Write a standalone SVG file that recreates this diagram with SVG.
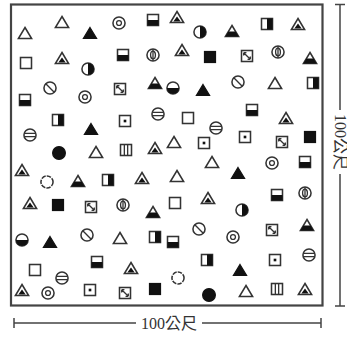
<svg xmlns="http://www.w3.org/2000/svg" xmlns:xlink="http://www.w3.org/1999/xlink" width="347" height="339" viewBox="0 0 347 339">
<style>
.o{fill:#fff;stroke:#333;stroke-width:1.4}
.f{fill:#111;stroke:#111;stroke-width:1.1}
.l{fill:none;stroke:#333;stroke-width:1.2}
.k{fill:#111;stroke:none}
.dim{fill:none;stroke:#444;stroke-width:1.5}
.lbl{font-family:"Liberation Serif","Noto Sans CJK TC",serif;font-size:16px;fill:#333}
</style>
<defs>
<g id="tri" transform="scale(1.1)"><path class="o" d="M0,-5 L6,5 L-6,5Z"/></g>
<g id="triF" transform="scale(1.1)"><path class="f" d="M0,-5 L6,5 L-6,5Z"/></g>
<g id="triB" transform="scale(1.1)"><path class="o" d="M0,-5 L6,5 L-6,5Z"/><path class="k" d="M-3.3,0.5 L3.3,0.5 L6,5 L-6,5Z"/></g>
<g id="triH" transform="scale(1.1)"><path class="o" d="M0,-5 L6,5 L-6,5Z"/><path class="k" d="M0,-0.5 L3.3,4 L-3.3,4Z"/></g>
<g id="sq" transform="scale(1.1)"><rect class="o" x="-5" y="-5" width="10" height="10"/></g>
<g id="sqF" transform="scale(1.1)"><rect class="f" x="-5" y="-5" width="10" height="10"/></g>
<g id="sqB" transform="scale(1.1)"><rect class="o" x="-5" y="-5" width="10" height="10"/><rect class="k" x="-5" y="0" width="10" height="5"/></g>
<g id="sqR" transform="scale(1.1)"><rect class="o" x="-5" y="-5" width="10" height="10"/><rect class="k" x="0" y="-5" width="5" height="10"/></g>
<g id="sqX" transform="scale(1.1)"><rect class="o" x="-5" y="-5" width="10" height="10"/><path class="l" d="M-3,-3 L3,3 M-3,-3 h2.5 M-3,-3 v2.5 M3,3 h-2.5 M3,3 v-2.5"/></g>
<g id="sqD" transform="scale(1.1)"><rect class="o" x="-5" y="-5" width="10" height="10"/><rect class="k" x="-1.2" y="-1.2" width="2.4" height="2.4"/></g>
<g id="sqII" transform="scale(1.1)"><rect class="o" x="-5" y="-5" width="10" height="10"/><path class="l" d="M-1.5,-5 V5 M1.5,-5 V5"/></g>
<g id="cO" transform="scale(1.1)"><circle class="o" r="5.5"/><circle class="l" r="2.2"/></g>
<g id="cS" transform="scale(1.1)"><circle class="o" r="5.5"/><path class="l" d="M-3.8,-3.8 L3.8,3.8"/></g>
<g id="cV" transform="scale(1.1)"><circle class="o" r="5.5"/><path class="l" d="M0,-5.5 V5.5"/><ellipse class="l" rx="2.2" ry="3.5"/></g>
<g id="cH" transform="scale(1.1)"><circle class="o" r="5.5"/><path class="l" d="M-5.5,-1.5 H5.5 M-5.5,1.5 H5.5"/></g>
<g id="cF" transform="scale(1.1)"><circle class="f" r="5.8"/></g>
<g id="cR" transform="scale(1.1)"><circle class="o" r="5.5"/><path class="k" d="M0,-5.5 A5.5,5.5 0 0 1 0,5.5Z"/></g>
<g id="cB" transform="scale(1.1)"><circle class="o" r="5.5"/><path class="k" d="M-5.5,0 A5.5,5.5 0 0 0 5.5,0Z"/></g>
<g id="cD" transform="scale(1.1)"><circle class="o" r="5.5" stroke-dasharray="4 1"/></g>
</defs>
<rect x="11" y="4.5" width="311.5" height="301" fill="#fff" stroke="#444" stroke-width="2.2"/>
<g id="connectors">
<path class="dim" d="M340,4.5 V306 M335,4.5 H345 M335,306 H345"/>
<path class="dim" d="M14,323 H136 M202,323 H321 M14,318 V328 M321,318 V328"/>
</g>
<g id="label-right"><rect x="333" y="110" width="14" height="64" fill="#fff"/><text class="lbl" transform="translate(340,142) rotate(90)" text-anchor="middle" dominant-baseline="central">100公尺</text></g>
<g id="label-bottom"><text class="lbl" x="169" y="323" text-anchor="middle" dominant-baseline="central">100公尺</text></g>
<g id="n1"><use href="#tri" x="25" y="33"/></g>
<g id="n2"><use href="#tri" x="62" y="22"/></g>
<g id="n3"><use href="#triF" x="90" y="33"/></g>
<g id="n4"><use href="#cO" x="119" y="23"/></g>
<g id="n5"><use href="#sqB" x="153" y="20"/></g>
<g id="n6"><use href="#triH" x="177" y="17"/></g>
<g id="n7"><use href="#cR" x="200" y="32"/></g>
<g id="n8"><use href="#triB" x="232" y="31"/></g>
<g id="n9"><use href="#sqR" x="267" y="24"/></g>
<g id="n10"><use href="#triH" x="298" y="24"/></g>
<g id="n11"><use href="#sq" x="26" y="63"/></g>
<g id="n12"><use href="#triH" x="62" y="58"/></g>
<g id="n13"><use href="#cR" x="88" y="69"/></g>
<g id="n14"><use href="#sqB" x="123" y="55"/></g>
<g id="n15"><use href="#cV" x="153" y="55"/></g>
<g id="n16"><use href="#triH" x="182" y="50"/></g>
<g id="n17"><use href="#sqF" x="210" y="57"/></g>
<g id="n18"><use href="#sqX" x="247" y="56"/></g>
<g id="n19"><use href="#cV" x="278" y="52"/></g>
<g id="n20"><use href="#triB" x="310" y="58"/></g>
<g id="n21"><use href="#sqB" x="25" y="100"/></g>
<g id="n22"><use href="#cS" x="50" y="88"/></g>
<g id="n23"><use href="#cO" x="85" y="97"/></g>
<g id="n24"><use href="#sqX" x="120" y="89"/></g>
<g id="n25"><use href="#triB" x="155" y="83"/></g>
<g id="n26"><use href="#cB" x="173" y="88"/></g>
<g id="n27"><use href="#triF" x="203" y="90"/></g>
<g id="n28"><use href="#cS" x="238" y="82"/></g>
<g id="n29"><use href="#tri" x="275" y="83"/></g>
<g id="n30"><use href="#sqR" x="313" y="83"/></g>
<g id="n31"><use href="#cH" x="158" y="114"/></g>
<g id="n32"><use href="#sqB" x="252" y="110"/></g>
<g id="n33"><use href="#sqR" x="58" y="120"/></g>
<g id="n34"><use href="#triF" x="91" y="129"/></g>
<g id="n35"><use href="#cH" x="30" y="135"/></g>
<g id="n36"><use href="#sqD" x="125" y="121"/></g>
<g id="n37"><use href="#sq" x="188" y="118"/></g>
<g id="n38"><use href="#cH" x="216" y="128"/></g>
<g id="n39"><use href="#triH" x="286" y="118"/></g>
<g id="n40"><use href="#sqD" x="245" y="137"/></g>
<g id="n41"><use href="#sqX" x="282" y="142"/></g>
<g id="n42"><use href="#sqF" x="310" y="137"/></g>
<g id="n43"><use href="#cF" x="59" y="153"/></g>
<g id="n44"><use href="#tri" x="96" y="152"/></g>
<g id="n45"><use href="#sqII" x="126" y="150"/></g>
<g id="n46"><use href="#triH" x="155" y="148"/></g>
<g id="n47"><use href="#tri" x="174" y="142"/></g>
<g id="n48"><use href="#sqD" x="204" y="143"/></g>
<g id="n49"><use href="#tri" x="212" y="162"/></g>
<g id="n50"><use href="#cO" x="272" y="163"/></g>
<g id="n51"><use href="#sqB" x="305" y="162"/></g>
<g id="n52"><use href="#triH" x="22" y="170"/></g>
<g id="n53"><use href="#cD" x="47" y="182"/></g>
<g id="n54"><use href="#triB" x="78" y="181"/></g>
<g id="n55"><use href="#sqR" x="108" y="180"/></g>
<g id="n56"><use href="#triH" x="142" y="178"/></g>
<g id="n57"><use href="#tri" x="177" y="176"/></g>
<g id="n58"><use href="#triF" x="238" y="173"/></g>
<g id="n59"><use href="#sqB" x="277" y="195"/></g>
<g id="n60"><use href="#cV" x="305" y="193"/></g>
<g id="n61"><use href="#triH" x="30" y="203"/></g>
<g id="n62"><use href="#sqF" x="58" y="205"/></g>
<g id="n63"><use href="#sqX" x="91" y="207"/></g>
<g id="n64"><use href="#cV" x="123" y="205"/></g>
<g id="n65"><use href="#triB" x="153" y="212"/></g>
<g id="n66"><use href="#sq" x="175" y="203"/></g>
<g id="n67"><use href="#triH" x="208" y="198"/></g>
<g id="n68"><use href="#cR" x="242" y="210"/></g>
<g id="n69"><use href="#sqX" x="272" y="230"/></g>
<g id="n70"><use href="#triB" x="307" y="225"/></g>
<g id="n71"><use href="#cB" x="22" y="240"/></g>
<g id="n72"><use href="#triF" x="50" y="242"/></g>
<g id="n73"><use href="#cS" x="87" y="235"/></g>
<g id="n74"><use href="#tri" x="120" y="238"/></g>
<g id="n75"><use href="#sqR" x="155" y="237"/></g>
<g id="n76"><use href="#sqB" x="173" y="242"/></g>
<g id="n77"><use href="#cS" x="199" y="229"/></g>
<g id="n78"><use href="#cO" x="233" y="237"/></g>
<g id="n79"><use href="#sqD" x="275" y="260"/></g>
<g id="n80"><use href="#cH" x="309" y="255"/></g>
<g id="n81"><use href="#sqB" x="97" y="262"/></g>
<g id="n82"><use href="#sq" x="35" y="270"/></g>
<g id="n83"><use href="#cH" x="62" y="278"/></g>
<g id="n84"><use href="#triH" x="22" y="290"/></g>
<g id="n85"><use href="#cO" x="48" y="293"/></g>
<g id="n86"><use href="#sqD" x="90" y="290"/></g>
<g id="n87"><use href="#sqX" x="125" y="293"/></g>
<g id="n88"><use href="#sqF" x="155" y="289"/></g>
<g id="n89"><use href="#cD" x="178" y="278"/></g>
<g id="n90"><use href="#cF" x="209" y="295"/></g>
<g id="n91"><use href="#tri" x="246" y="291"/></g>
<g id="n92"><use href="#sqII" x="277" y="289"/></g>
<g id="n93"><use href="#triH" x="305" y="289"/></g>
<g id="n94"><use href="#triF" x="240" y="270"/></g>
<g id="n95"><use href="#sqR" x="207" y="260"/></g>
<g id="n96"><use href="#triH" x="131" y="268"/></g>
</svg>
